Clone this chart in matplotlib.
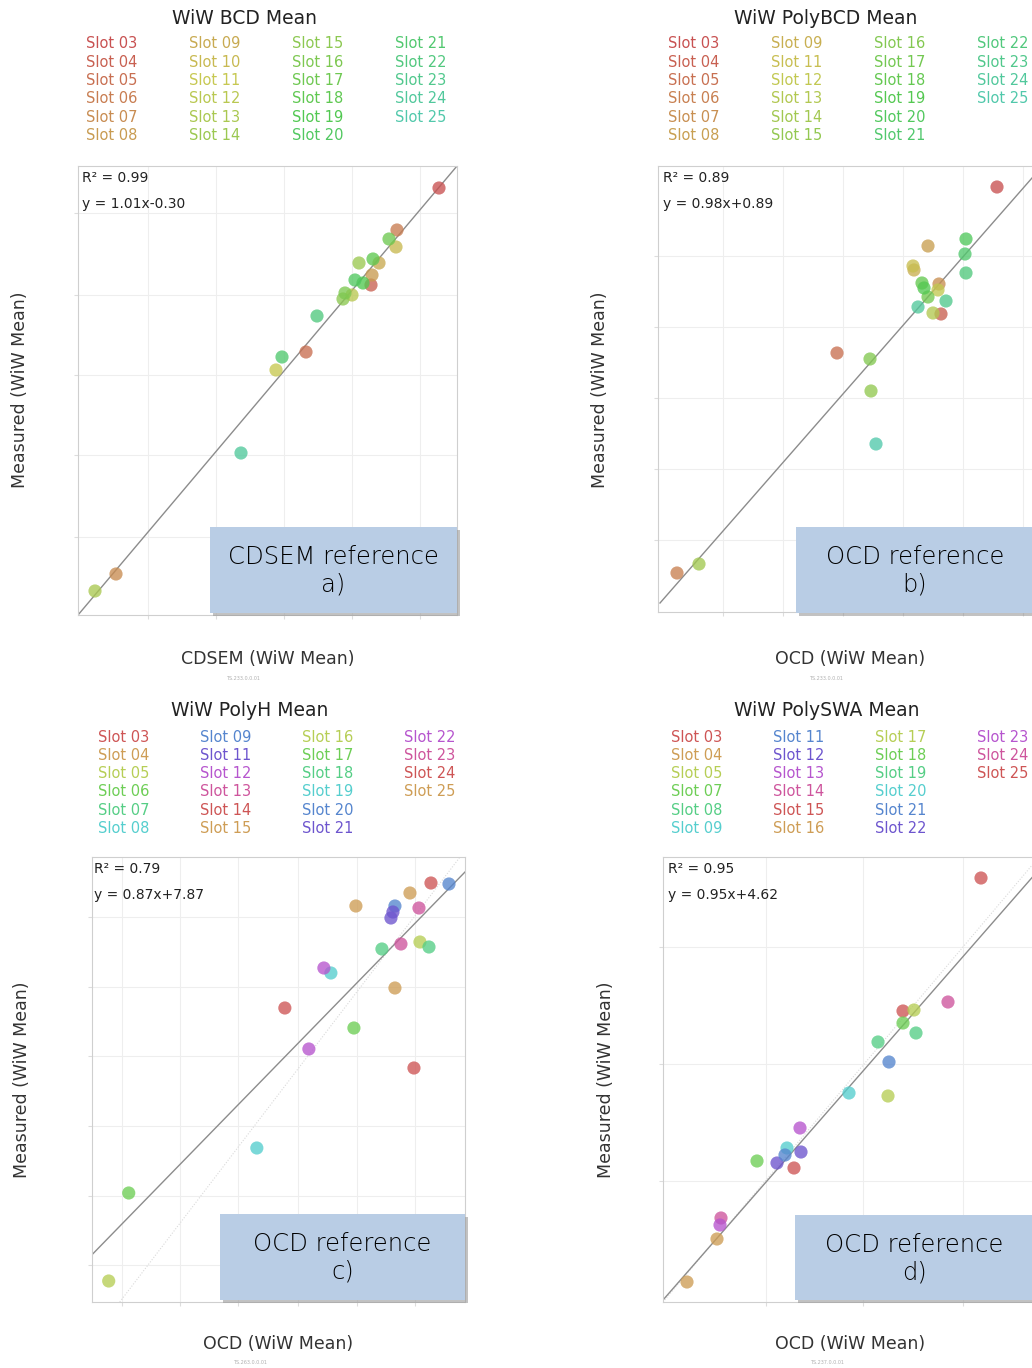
import colorsys
import numpy as np
import matplotlib
matplotlib.use("Agg")
import matplotlib.pyplot as plt
from matplotlib.patches import Rectangle

W, H = 1032, 1368
nan = np.nan

# ---------------- data ----------------
titles = ["WiW BCD Mean", "WiW PolyBCD Mean", "WiW PolyH Mean", "WiW PolySWA Mean"]
x_labels = ["CDSEM (WiW Mean)", "OCD (WiW Mean)", "OCD (WiW Mean)", "OCD (WiW Mean)"]
y_label = "Measured (WiW Mean)"
stats_r2 = ["R\u00b2 = 0.99", "R\u00b2 = 0.89", "R\u00b2 = 0.79", "R\u00b2 = 0.95"]
stats_eq = ["y = 1.01x-0.30", "y = 0.98x+0.89", "y = 0.87x+7.87", "y = 0.95x+4.62"]
ref_labels = ["CDSEM reference\na)", "OCD reference\nb)", "OCD reference\nc)", "OCD reference\nd)"]
footnotes = ["TS.233.0.0.01", "TS.233.0.0.01", "TS.263.0.0.01", "TS.237.0.0.01"]

slots_a = ["03", "04", "05", "06", "07", "08", "09", "10", "11", "12", "13", "14",
           "15", "16", "17", "18", "19", "20", "21", "22", "23", "24", "25"]
x_a = [36.1, 29.3, 22.8, 31.9, 3.8, 29.4, 30.1, 31.8, 19.8, 27.4, 1.7, 28.1,
       26.5, 26.7, 31.1, 29.5, 28.5, 27.7, 20.4, 23.9, nan, 16.3, nan]
y_a = [42.7, 33.0, 26.3, 38.5, 4.1, 34.0, 35.2, 36.8, 24.5, 32.0, 2.4, 35.2,
       31.6, 32.2, 37.6, 35.6, 33.2, 33.5, 25.8, 29.9, nan, 16.2, nan]

slots_b = ["03", "04", "05", "06", "07", "08", "09", "11", "12", "13", "14",
           "15", "16", "17", "18", "19", "20", "21", "22", "23", "24", "25"]
x_b = [33.9, 28.3, 17.9, 1.9, 28.1, 27.0, 25.6, 25.5, 28.0, 27.5, 4.1,
       21.3, 21.2, 27.0, 26.4, 26.6, 30.8, 30.7, 30.8, 28.8, 26.0, 21.8]
y_b = [42.5, 29.8, 25.9, 3.9, 32.8, 36.6, 34.2, 34.6, 32.2, 29.9, 4.8,
       22.1, 25.3, 31.5, 32.9, 32.4, 37.3, 35.8, 33.9, 31.1, 30.5, 16.8]

slots_c = ["03", "04", "05", "06", "07", "08", "09", "11", "12", "13", "14",
           "15", "16", "17", "18", "19", "20", "21", "22", "23", "24", "25"]
x_c = [19.3, 26.4, 1.7, 3.7, 29.0, 16.5, 30.3, 30.1, 21.7, 30.9, 32.2,
       30.3, 32.8, 26.2, 33.7, 23.9, 35.7, 29.9, 23.2, 32.7, 33.9, 31.8]
y_c = [29.4, 39.6, 2.1, 10.9, 35.3, 15.4, 39.6, 39.0, 25.3, 35.8, 23.4,
       31.4, 36.0, 27.4, 35.5, 32.9, 41.8, 38.4, 33.4, 39.4, 41.9, 40.9]

slots_d = ["03", "04", "05", "07", "08", "09", "11", "12", "13", "14",
           "15", "16", "17", "18", "19", "20", "21", "22", "23", "24", "25"]
x_d = [13.1, 2.4, 22.5, 9.4, 21.5, 18.6, 22.6, 11.4, 13.7, 5.8,
       24.0, 5.4, 25.1, 24.0, 25.3, 12.4, 12.2, 13.8, 5.7, 28.5, 31.8]
y_d = [13.4, 2.0, 20.6, 14.1, 26.0, 20.9, 24.0, 13.9, 17.4, 8.4,
       29.1, 6.3, 29.2, 27.9, 26.9, 15.4, 14.7, 15.0, 7.7, 30.0, 42.4]

# fitted regression lines (end points) and 1:1 reference lines
fit_a_x, fit_a_y = [0.0, 37.9], [0.0, 44.9]
fit_b_x, fit_b_y = [0.2, 38.8], [0.9, 45.0]
fit_c_x, fit_c_y = [0.0, 37.3], [4.7, 43.0]
fit_d_x, fit_d_y = [0.0, 38.7], [0.2, 44.5]
one_c_x, one_c_y = [2.8, 36.8], [0.0, 44.5]
one_d_x, one_d_y = [0.0, 37.6], [0.0, 44.5]

# ---------------- layout ----------------
plt.rcParams['font.family'] = ['DejaVu Sans']
fig = plt.figure(figsize=(W / 100, H / 100), dpi=100)
fig.patch.set_facecolor('white')


def fx(px):
    return px / W


def fy(py):
    return 1 - py / H


def grad_colors(n):
    return [colorsys.hls_to_rgb(i / (n - 1) * 0.46, 0.55, 0.52) for i in range(n)]


def cycle_colors(n):
    return [colorsys.hls_to_rgb((i % 10) / 10.0, 0.57, 0.55) for i in range(n)]


panels = [
    dict(slots=slots_a, x=x_a, y=y_a, fit=(fit_a_x, fit_a_y), one=None,
         colors=grad_colors(len(slots_a)),
         rect=(78, 457, 166, 615), xlim=(0, 37.9), ylim=(0, 44.9),
         gx=[7.0, 13.8, 20.6, 27.4, 34.2], gy=[7.8, 16.0, 24.0, 32.0, 40.2],
         title=(244, 18), leg=(86, 44, 103), stats=(82, 178),
         box=(210, 527, 457, 613), xl=(268, 659), foot=(243, 678), yl=(20, 390)),
    dict(slots=slots_b, x=x_b, y=y_b, fit=(fit_b_x, fit_b_y), one=None,
         colors=grad_colors(len(slots_b)),
         rect=(658, 1046, 166, 612), xlim=(0, 38.8), ylim=(0, 44.6),
         gx=[6.5, 12.5, 18.5, 24.5, 30.5, 36.5], gy=[7.2, 14.3, 21.4, 28.5, 35.6],
         title=(826, 18), leg=(668, 44, 103), stats=(663, 178),
         box=(796, 527, 1034, 613), xl=(850, 659), foot=(826, 678), yl=(600, 390)),
    dict(slots=slots_c, x=x_c, y=y_c, fit=(fit_c_x, fit_c_y), one=(one_c_x, one_c_y),
         colors=cycle_colors(len(slots_c)),
         rect=(91.7, 465, 857, 1302), xlim=(0, 37.3), ylim=(0, 44.5),
         gx=[3.0, 8.8, 14.6, 20.6, 26.5, 32.3], gy=[3.7, 10.6, 17.6, 24.6, 31.5, 38.5],
         title=(250, 711), leg=(98, 737, 102), stats=(94, 869),
         box=(220, 1214, 465, 1300), xl=(278, 1344), foot=(250, 1363), yl=(22, 1080)),
    dict(slots=slots_d, x=x_d, y=y_d, fit=(fit_d_x, fit_d_y), one=(one_d_x, one_d_y),
         colors=cycle_colors(len(slots_d)),
         rect=(663, 1050, 857, 1302), xlim=(0, 38.7), ylim=(0, 44.5),
         gx=[10.3, 20.0, 30.0], gy=[12.1, 23.8, 35.5],
         title=(827, 711), leg=(671, 737, 102), stats=(668, 869),
         box=(795, 1215, 1034, 1300), xl=(850, 1344), foot=(827, 1362), yl=(606, 1080)),
]

for i, p in enumerate(panels):
    l, r, t, b = p['rect']
    ax = fig.add_axes([fx(l), fy(b), (r - l) / W, (b - t) / H])
    ax.set_xlim(*p['xlim'])
    ax.set_ylim(*p['ylim'])
    ax.set_xticks(p['gx'])
    ax.set_yticks(p['gy'])
    ax.set_xticklabels([])
    ax.set_yticklabels([])
    ax.tick_params(length=3, color='#dddddd', direction='out')
    ax.grid(True, color='#eeeeee', linewidth=0.8)
    ax.set_axisbelow(True)
    for s in ax.spines.values():
        s.set_color('#cfcfcf')
        s.set_linewidth(0.8)

    if p['one'] is not None:
        ax.plot(p['one'][0], p['one'][1], color='#dadada', linewidth=0.8,
                linestyle=(0, (1, 1.5)), zorder=2)
    ax.plot(p['fit'][0], p['fit'][1], color='#8c8c8c', linewidth=1.0, zorder=2)

    ax.scatter(p['x'], p['y'], s=90, c=p['colors'], alpha=0.78,
               edgecolors='none', zorder=3)

    # stats text
    sx, sy = p['stats']
    fig.text(fx(sx), fy(sy), stats_r2[i], fontsize=10, color='#222222',
             ha='left', va='center')
    fig.text(fx(sx), fy(sy + 26), stats_eq[i], fontsize=10, color='#222222',
             ha='left', va='center')

    # reference box with shadow
    bl, bt, br, bb = p['box']
    fig.patches.append(Rectangle((fx(bl + 3), fy(bb + 3)), (br - bl) / W, (bb - bt) / H,
                                 transform=fig.transFigure, facecolor='#9a9a9a',
                                 edgecolor='none', alpha=0.6, zorder=4))
    fig.patches.append(Rectangle((fx(bl), fy(bb)), (br - bl) / W, (bb - bt) / H,
                                 transform=fig.transFigure, facecolor='#b9cde5',
                                 edgecolor='none', zorder=5))
    fig.text(fx((bl + br) / 2), fy((bt + bb) / 2 + 1), ref_labels[i], fontsize=17.5,
             color='#000000', ha='center', va='center', linespacing=1.2,
             fontweight='light', zorder=6)

    # title
    tx, ty = p['title']
    fig.text(fx(tx), fy(ty), titles[i], fontsize=13.5, color='#222222',
             ha='center', va='center')

    # slot legend as coloured text, column-major, 6 per column
    lx, ly, step = p['leg']
    for k, (slot, col) in enumerate(zip(p['slots'], p['colors'])):
        c, rr = divmod(k, 6)
        fig.text(fx(lx + c * step), fy(ly + rr * 18.3), "Slot " + slot,
                 fontsize=10.5, color=col, ha='left', va='center')

    # axis labels
    xx, xy = p['xl']
    fig.text(fx(xx), fy(xy), x_labels[i], fontsize=12.5, color='#333333',
             ha='center', va='center')
    fx_, fy_ = p['foot']
    fig.text(fx(fx_), fy(fy_), footnotes[i], fontsize=3.5, color='#b0b0b0',
             ha='center', va='center')
    yx, yy = p['yl']
    fig.text(fx(yx), fy(yy), y_label, fontsize=12.5, color='#333333',
             ha='center', va='center', rotation=90)

fig.savefig("out.png", dpi=100, facecolor='white')
